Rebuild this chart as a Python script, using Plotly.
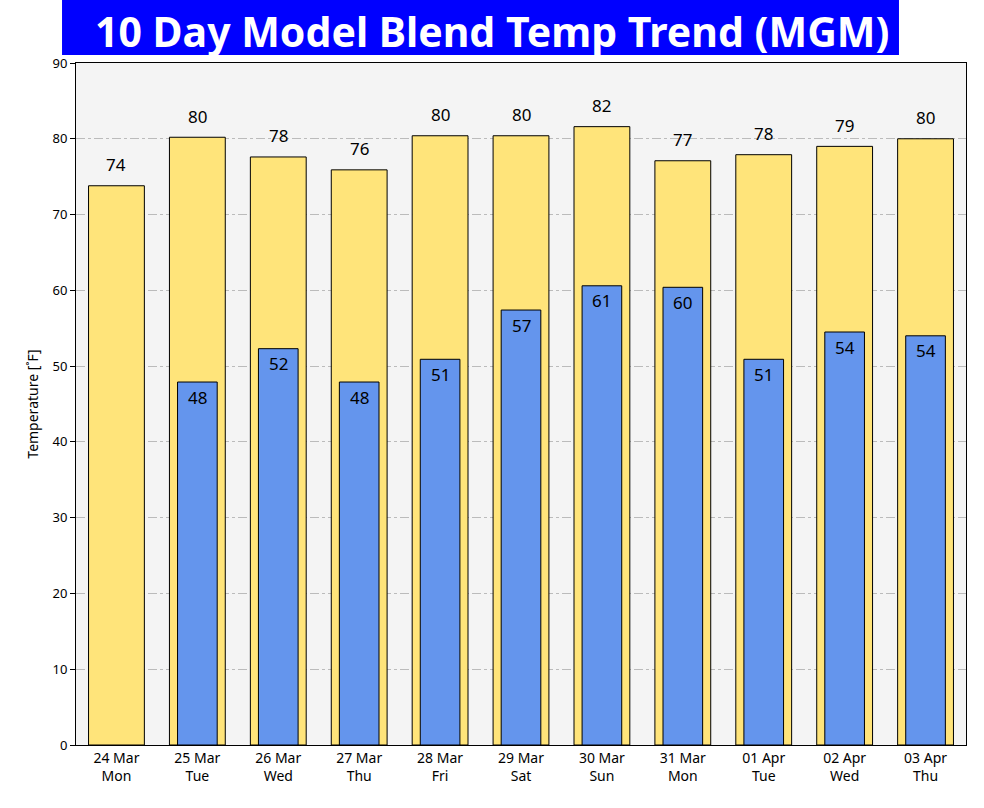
import plotly.graph_objects as go

days = ["24 Mar<br>Mon", "25 Mar<br>Tue", "26 Mar<br>Wed", "27 Mar<br>Thu", "28 Mar<br>Fri",
        "29 Mar<br>Sat", "30 Mar<br>Sun", "31 Mar<br>Mon", "01 Apr<br>Tue", "02 Apr<br>Wed",
        "03 Apr<br>Thu"]
highs = [73.8, 80.2, 77.6, 75.9, 80.4, 80.4, 81.6, 77.1, 77.9, 79.0, 80.0]
lows = [None, 47.9, 52.3, 47.9, 50.9, 57.4, 60.6, 60.4, 50.9, 54.5, 54.0]
yticks = [0, 10, 20, 30, 40, 50, 60, 70, 80, 90]

font = "Noto Sans"

fig = go.Figure()
fig.add_trace(go.Bar(x=days, y=highs, width=0.69, marker=dict(color="#FFE47A", line=dict(color="black", width=1)),
                     hoverinfo="y", name="High"))
fig.add_trace(go.Bar(x=days, y=lows, width=0.49, marker=dict(color="#6495ED", line=dict(color="black", width=1)),
                     hoverinfo="y", name="Low"))

for d, h in zip(days, highs):
    fig.add_annotation(x=d, y=h, text=str(round(h)), showarrow=False, yshift=21,
                       font=dict(family=font, size=17, color="black"))
for d, l in zip(days, lows):
    if l is not None:
        fig.add_annotation(x=d, y=l, text=str(round(l)), showarrow=False, yshift=-15,
                           font=dict(family=font, size=17, color="black"))

fig.add_shape(type="rect", xref="paper", yref="paper", x0=-0.0157, x1=0.9247, y0=1.0117, y1=1.0924,
              fillcolor="#0000FF", line=dict(width=0), layer="above")
fig.add_annotation(xref="paper", yref="paper", x=0.467, y=1.0475, text="<b>10 Day Model Blend Temp Trend (MGM)</b>",
                   showarrow=False, font=dict(family=font, size=41, color="white"), xanchor="center",
                   yanchor="middle", borderpad=0)

fig.update_layout(
    width=984, height=808,
    margin=dict(l=76, r=18, t=63, b=63),
    barmode="overlay",
    showlegend=False,
    paper_bgcolor="white",
    plot_bgcolor="#F4F4F4",
    font=dict(family=font, size=13, color="black"),
    xaxis=dict(showline=True, linecolor="black", linewidth=1, mirror=True, ticks="",
               showgrid=False, tickfont=dict(size=14)),
    yaxis=dict(range=[0, 90], tickvals=yticks, showline=True, linecolor="black", linewidth=1, mirror=True,
               ticks="outside", ticklen=5, tickcolor="black", showgrid=True, gridcolor="#BBBBBB",
               griddash="dashdot", gridwidth=1, zeroline=False,
               title=dict(text="Temperature [˚F]", font=dict(size=14), standoff=10), tickfont=dict(size=13)),
)

fig.write_html("out.html", config={"displayModeBar": False},
               post_script="document.body.style.margin='0';")
